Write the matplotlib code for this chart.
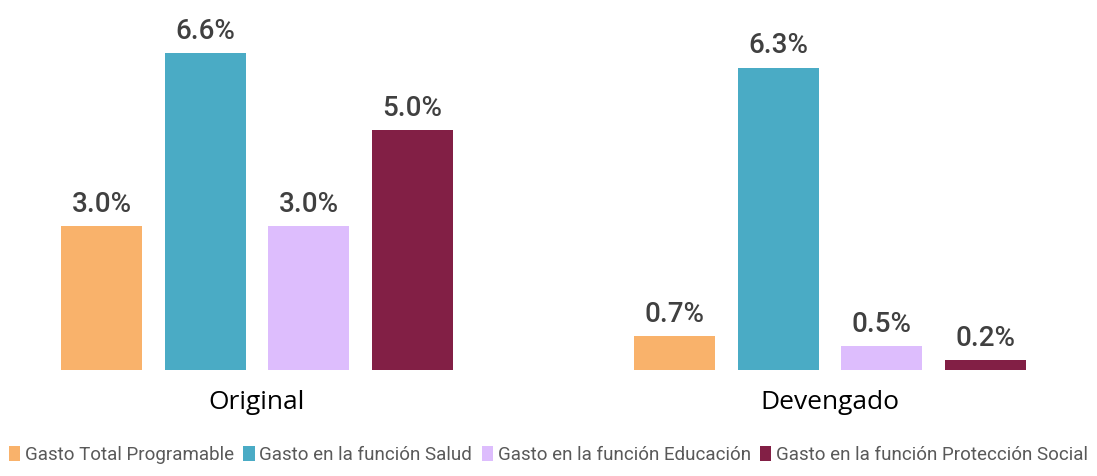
import matplotlib.pyplot as plt
import numpy as np

# datos
categorias = ['Original', 'Devengado']
series = ['Gasto Total Programable', 'Gasto en la función Salud',
          'Gasto en la función Educación', 'Gasto en la función Protección Social']
valores = [
    [3.0, 0.7],
    [6.6, 6.3],
    [3.0, 0.5],
    [5.0, 0.2],
]
colores = ['#F9B26B', '#4AABC5', '#DDBDFD', '#821F45']

fig = plt.figure(figsize=(10.97, 4.76), dpi=100)
ax = fig.add_axes([0, 1 - 370 / 476, 1, 370 / 476])

x = np.arange(len(categorias))
paso = 0.1806
ancho = 0.1414
for i, (nombre, vals) in enumerate(zip(series, valores)):
    pos = x + (i - 1.5) * paso
    barras = ax.bar(pos, vals, ancho, color=colores[i], label=nombre)
    for b, v in zip(barras, vals):
        ax.annotate(f'{v:.1f}%', (b.get_x() + b.get_width() / 2, v),
                    xytext=(0, 6), textcoords='offset points', ha='center', va='bottom',
                    fontsize=20, color='#404040', family='Roboto', weight='medium')

ax.set_xlim(-257 / 573, (1097 - 257) / 573)
ax.set_ylim(0, 370 / 48)
ax.axis('off')

# etiquetas de categoria
for xi, c in zip(x, categorias):
    ax.text(xi, -0.42, c, ha='center', va='top', fontsize=19, color='#000000',
            family='Open Sans')

leg = fig.legend(loc='lower center', bbox_to_anchor=(0.5, -0.01), ncol=4, frameon=False,
                 handlelength=0.6, handleheight=0.9, handletextpad=0.25, columnspacing=0.5,
                 prop={'family': 'Roboto', 'size': 13.5})
for t in leg.get_texts():
    t.set_color('#595959')

fig.savefig('out.png', dpi=100)
